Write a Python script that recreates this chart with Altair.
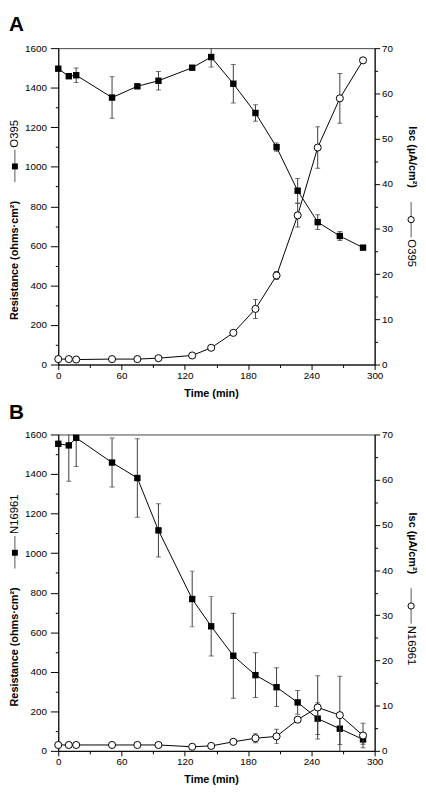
import altair as alt
import pandas as pd

# ---------------- data ----------------
time_min = [0, 10, 17, 51, 75, 95, 127, 145, 166, 187, 207, 227, 246, 267, 289]

# Panel A : strain O395
res_o395 = [1496, 1458, 1463, 1350, 1407, 1435, 1501, 1555, 1420, 1272, 1099, 879, 720, 650, 591]
res_o395_err = [0, 0, 37, 105, 0, 47, 0, 50, 97, 42, 21, 62, 37, 23, 0]
isc_o395 = [1.2, 1.2, 1.1, 1.2, 1.2, 1.4, 2.0, 3.7, 7.0, 12.3, 19.7, 33.0, 48.0, 58.9, 67.3]
isc_o395_err = [0, 0, 0, 0, 0, 0, 0, 0, 0, 2.1, 0.9, 2.6, 4.6, 5.5, 0]

# Panel B : strain N16961
res_n16961 = [1553, 1545, 1583, 1458, 1380, 1115, 768, 630, 481, 383, 322, 245, 163, 112, 58]
res_n16961_err = [0, 182, 145, 124, 198, 135, 141, 150, 215, 113, 98, 60, 80, 80, 25]
isc_n16961 = [1.3, 1.3, 1.3, 1.3, 1.3, 1.3, 0.9, 1.1, 2.0, 2.8, 3.2, 6.9, 9.6, 7.9, 3.4]
isc_n16961_err = [0, 0, 0, 0, 0, 0, 0, 0, 0, 1.0, 1.6, 0, 7.0, 8.6, 2.7]

x_ticks = list(range(0, 301, 30))
res_ticks = list(range(0, 1601, 100))
isc_ticks = list(range(0, 71, 5))

FONT = "Liberation Sans"
W = 321
H = 321
ERR_COLOR = "#3c3c3c"


def panel(letter, strain, res, res_err, isc, isc_err, letter_y):
    df = pd.DataFrame({"t": time_min, "res": res, "res_err": res_err,
                       "isc": isc, "isc_err": isc_err})
    df["res_lo"] = df["res"] - df["res_err"]
    df["res_hi"] = df["res"] + df["res_err"]
    df["isc_lo"] = df["isc"] - df["isc_err"]
    df["isc_hi"] = df["isc"] + df["isc_err"]

    x_axis = alt.Axis(
        values=x_ticks, format="d",
        labelExpr="datum.value % 60 === 0 ? datum.label : ''",
        tickSize={"condition": {"test": "datum.value % 60 === 0", "value": 5}, "value": 3},
        labelPadding=1, labelFlush=False,
        title="Time (min)", titlePadding=7, titleX=155,
    )
    x = alt.X("t:Q", scale=alt.Scale(domain=[0, 300], nice=False, zero=False), axis=x_axis)

    res_scale = alt.Scale(domain=[0, 1600], nice=False)
    res_axis = alt.Axis(
        orient="left", values=res_ticks, format="d",
        labelExpr="datum.value % 200 === 0 ? datum.label : ''",
        tickSize={"condition": {"test": "datum.value % 200 === 0", "value": 8}, "value": 3},
        labelPadding=4, labelFlush=False,
        title="Resistance (ohms\u00b7cm\u00b2)", titleAngle=270,
        titleX=-44, titleY=215, titleAlign="center", titleBaseline="middle",
    )
    isc_scale = alt.Scale(domain=[0, 70], nice=False)
    isc_axis = alt.Axis(
        orient="right", values=isc_ticks, format="d",
        labelExpr="datum.value % 10 === 0 ? datum.label : ''",
        tickSize={"condition": {"test": "datum.value % 10 === 0", "value": 5}, "value": 3},
        labelPadding=2, labelFlush=False,
        title="Isc (\u00b5A/cm\u00b2)", titleAngle=90,
        titleX=37, titleY=110, titleAlign="center", titleBaseline="middle",
    )

    base = alt.Chart(df)

    # resistance (squares)
    r_bar = base.mark_rule(color=ERR_COLOR, strokeWidth=1, clip=True).encode(
        x=x, y=alt.Y("res_lo:Q", scale=res_scale, axis=res_axis), y2="res_hi:Q")
    r_cap_lo = base.mark_tick(color=ERR_COLOR, orient="horizontal", size=5, thickness=1, clip=True).encode(
        x=x, y=alt.Y("res_lo:Q", scale=res_scale, axis=res_axis))
    r_cap_hi = base.mark_tick(color=ERR_COLOR, orient="horizontal", size=5, thickness=1, clip=True).encode(
        x=x, y=alt.Y("res_hi:Q", scale=res_scale, axis=res_axis))
    r_line = base.mark_line(color="black", strokeWidth=1).encode(
        x=x, y=alt.Y("res:Q", scale=res_scale, axis=res_axis))
    r_pts = base.mark_point(shape="square", filled=True, color="black", size=42, opacity=1).encode(
        x=x, y=alt.Y("res:Q", scale=res_scale, axis=res_axis))
    res_layer = alt.layer(r_bar, r_cap_lo, r_cap_hi, r_line, r_pts)

    # Isc (open circles)
    i_bar = base.mark_rule(color=ERR_COLOR, strokeWidth=1, clip=True).encode(
        x=x, y=alt.Y("isc_lo:Q", scale=isc_scale, axis=isc_axis), y2="isc_hi:Q")
    i_cap_lo = base.mark_tick(color=ERR_COLOR, orient="horizontal", size=5, thickness=1, clip=True).encode(
        x=x, y=alt.Y("isc_lo:Q", scale=isc_scale, axis=isc_axis))
    i_cap_hi = base.mark_tick(color=ERR_COLOR, orient="horizontal", size=5, thickness=1, clip=True).encode(
        x=x, y=alt.Y("isc_hi:Q", scale=isc_scale, axis=isc_axis))
    i_line = base.mark_line(color="black", strokeWidth=1).encode(
        x=x, y=alt.Y("isc:Q", scale=isc_scale, axis=isc_axis))
    i_pts = base.mark_point(shape="circle", filled=True, fill="white", stroke="black",
                            strokeWidth=1, size=52, opacity=1).encode(
        x=x, y=alt.Y("isc:Q", scale=isc_scale, axis=isc_axis))
    isc_layer = alt.layer(i_bar, i_cap_lo, i_cap_hi, i_line, i_pts)

    # rotated legend keys beside the two axis titles, and the panel letter
    leg = alt.Chart(pd.DataFrame({"strain": [strain], "letter": [letter]}))
    l_rule = leg.mark_rule(color="#555", strokeWidth=1).encode(
        x=alt.value(-44), y=alt.value(103), y2=alt.value(136))
    l_sym = leg.mark_point(shape="square", filled=True, color="black", size=36, opacity=1).encode(
        x=alt.value(-44), y=alt.value(120))
    l_txt = leg.mark_text(angle=270, align="left", baseline="middle", font=FONT,
                          fontSize=11.5, color="black").encode(
        x=alt.value(-44), y=alt.value(101), text="strain:N")
    r_rule = leg.mark_rule(color="#555", strokeWidth=1).encode(
        x=alt.value(W + 37), y=alt.value(156), y2=alt.value(192))
    r_sym = leg.mark_point(shape="circle", filled=True, fill="white", stroke="black",
                           strokeWidth=1, size=40, opacity=1).encode(
        x=alt.value(W + 37), y=alt.value(174))
    r_txt = leg.mark_text(angle=90, align="left", baseline="middle", font=FONT,
                          fontSize=11.5, color="black").encode(
        x=alt.value(W + 37), y=alt.value(194), text="strain:N")
    p_letter = leg.mark_text(align="left", baseline="top", font=FONT, fontSize=21,
                             fontWeight="bold", color="black").encode(
        x=alt.value(-50), y=alt.value(letter_y), text="letter:N")

    return alt.layer(
        res_layer, isc_layer, l_rule, l_sym, l_txt, r_rule, r_sym, r_txt, p_letter
    ).resolve_scale(y="independent").properties(width=W, height=H)


top = panel("A", "O395", res_o395, res_o395_err, isc_o395, isc_o395_err, -34)
bottom = panel("B", "N16961", res_n16961, res_n16961_err, isc_n16961, isc_n16961_err, -33)

chart = alt.vconcat(top, bottom, spacing=2).configure(
    font=FONT, background="white", padding=0
).configure_view(
    stroke="#444", strokeWidth=1
).configure_axis(
    grid=False, domainColor="black", domainWidth=1, tickColor="black", tickWidth=1,
    labelFont=FONT, labelFontSize=10, labelColor="black",
    titleFont=FONT, titleFontSize=11, titleFontWeight="bold", titleColor="black",
)

chart.save("out.html", embed_options={"renderer": "svg", "actions": False})
